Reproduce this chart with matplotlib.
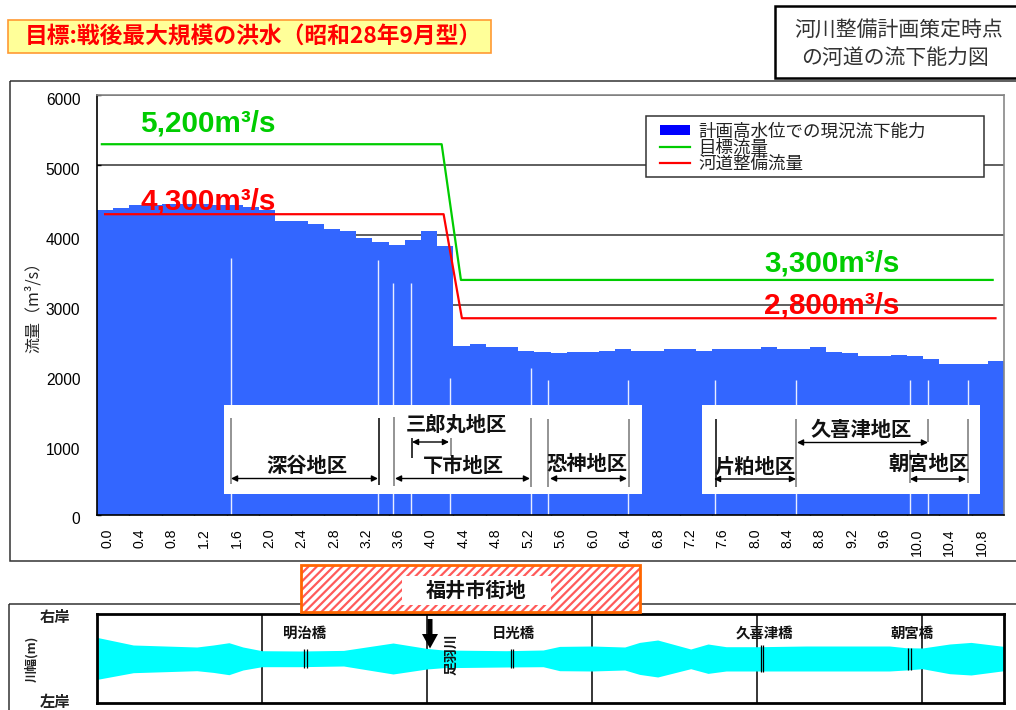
import matplotlib
matplotlib.use('Agg')
import matplotlib.pyplot as plt
import numpy as np
from matplotlib.patches import Rectangle, Polygon
from matplotlib.transforms import ScaledTranslation

CJK = ['Noto Sans CJK JP', 'DejaVu Sans']
plt.rcParams['font.family'] = CJK
plt.rcParams['hatch.linewidth'] = 1.6

capacity = [4355, 4385, 4430, 4430, 4440, 4435, 4445, 4430, 4430, 4400, 4355, 4197, 4197, 4154,
            4083, 4055, 3954, 3897, 3854, 3925, 4055, 3840, 2410, 2440, 2395, 2395, 2340, 2325,
            2310, 2325, 2325, 2340, 2368, 2340, 2340, 2368, 2368, 2340, 2368, 2368, 2368, 2395,
            2368, 2368, 2395, 2325, 2310, 2265, 2265, 2280, 2265, 2222, 2152, 2152, 2152, 2195]
km = [i * 0.2 for i in range(len(capacity))]
tick_km = km[::2][:28]

target_x = [-0.04, 4.156, 4.394, 10.96]
target_q = [5296, 5296, 3355, 3355]
plan_x = [0.0, 4.18, 4.406, 10.995]
plan_q = [4295, 4295, 2807, 2807]

boundary_km = [1.554, 3.375, 3.554, 3.783, 4.264, 5.258, 5.468, 6.456, 7.53, 8.53, 9.937, 10.159, 10.653]
boundary_top = [3668, 3640, 3310, 3310, 1950, 2095, 1920, 1920, 1920, 1920, 1920, 1920, 1920]

river_km = [0.0, 0.44, 1.21, 1.41, 1.6, 1.77, 2.0, 2.46, 2.99, 3.59, 4.0, 4.2, 4.96, 5.41, 5.61, 6.0,
            6.4, 6.58, 6.8, 7.2, 7.41, 7.63, 8.03, 8.6, 9.61, 9.81, 10.01, 10.34, 10.6, 11.0]
river_right = [21.3, 13.7, 11.7, 13.7, 16, 11.7, 8, 7.7, 8.3, 15.7, 10.3, 8.7, 8, 8.7, 12.3, 12.7,
               11.7, 16.3, 18.7, 9.7, 14.7, 12, 12, 12.7, 12.7, 11, 10.7, 14.7, 16.3, 12.3]
river_left = [-20.7, -14, -12, -13.7, -16, -11.3, -8, -8, -7.3, -15.3, -10.3, -9, -8.3, -8, -12, -12.3,
              -11.3, -15.7, -18.3, -10, -14.7, -12.3, -12.3, -12.3, -12.3, -11.3, -10, -15, -16.3, -12]
bridge_names = ['明治橋', '日光橋', '久喜津橋', '朝宮橋']
bridge_km = [2.527, 5.035, 8.065, 9.855]
bridge_half = [9.5, 9.5, 13.5, 11]
bridge_label_px = [305, 513, 764, 912]

W, H = 1016, 710
fig = plt.figure(figsize=(W / 100, H / 100), dpi=100, facecolor='white')

def axes_px(x0, y0, x1, y1, **kw):
    return fig.add_axes([x0 / W, 1 - y1 / H, (x1 - x0) / W, (y1 - y0) / H], **kw)

# main chart
ax = axes_px(97, 95, 1004, 514.5)
ax.set_xlim(-0.1, 11.1)
ax.set_ylim(0, 6000)
ax.set_axisbelow(True)
ax.grid(axis='y', color='#333333', lw=1.1)
bars = ax.bar(km, capacity, width=0.2, color='#3366FF', lw=0, label='計画高水位での現況流下能力', zorder=2)
ax.vlines(boundary_km, 0, boundary_top, color='#E8ECFF', lw=1.0, zorder=2.5)
l1, = ax.plot(target_x, target_q, color='#00CC00', lw=1.6, zorder=3, label='目標流量')
l2, = ax.plot(plan_x, plan_q, color='#FF0000', lw=1.6, zorder=3, label='河道整備流量')
ax.set_yticks([0, 1000, 2000, 3000, 4000, 5000, 6000])
ax.tick_params(axis='y', direction='in', length=3, width=1, pad=12, labelsize=11.2)
for t in ax.get_yticklabels():
    t.set_family(['Liberation Sans'])
    t.set_transform(t.get_transform() + ScaledTranslation(0, -4 / 100, fig.dpi_scale_trans))
ax.set_xticks([k - 0.1 for k in tick_km])
ax.set_xticks(tick_km, minor=True)
ax.set_xticklabels([])
ax.set_xticklabels([f'{k:.1f}' for k in tick_km], minor=True, rotation=90, family=['Liberation Sans'], fontsize=10.2)
ax.tick_params(axis='x', which='major', direction='in', length=3, width=1)
ax.tick_params(axis='x', which='minor', length=0, pad=10)
for t in ax.get_xticklabels(minor=True):
    t.set_transform(t.get_transform() + ScaledTranslation(2 / 100, 0, fig.dpi_scale_trans))
for s, c in zip(['top', 'right', 'left', 'bottom'], ['#888888', '#888888', 'black', 'black']):
    ax.spines[s].set_color(c)
    ax.spines[s].set_linewidth(1.2)

# river plan
rv = axes_px(97, 614, 1004, 703)
rv.set_xlim(0, 11)
rv.set_ylim(-44.3, 44.7)
rv.set_axisbelow(True)
rv.set_xticks([2, 4, 6, 8, 10])
rv.set_yticks([0])
rv.grid(axis='x', color='black', lw=1.1)
rv.tick_params(axis='x', length=0, labelbottom=False)
rv.tick_params(axis='y', direction='in', length=4, width=1, labelleft=False)
rv.fill_between(river_km, river_left, river_right, color='#00FFFF', lw=0, zorder=2)
for b, h in zip(bridge_km, bridge_half):
    rv.vlines([b - 0.015, b + 0.015], -h, h, color='black', lw=0.9, zorder=3)
for s in rv.spines.values():
    s.set_linewidth(2)

# page-level overlay in pixel coordinates
ov = fig.add_axes([0, 0, 1, 1], zorder=10)
ov.set_xlim(0, W)
ov.set_ylim(H, 0)
ov.axis('off')
ov.patch.set_alpha(0)

def rect(x0, y0, x1, y1, **kw):
    r = Rectangle((x0, y0), x1 - x0, y1 - y0, **kw)
    ov.add_patch(r)
    return r

# page frames
rect(9.5, 81, 1030, 561, fc='none', ec='#333333', lw=1.1)
rect(8.5, 604, 1030, 730, fc='none', ec='#333333', lw=1.1)
rect(775, 5.5, 1030, 78, fc='white', ec='black', lw=1.8)
ov.text(898.5, 30, '河川整備計画策定時点', ha='center', va='center', fontsize=15, color='#333333')
ov.text(895, 57.5, 'の河道の流下能力図', ha='center', va='center', fontsize=15, color='#333333')

rect(7.5, 20, 491, 53, fc='#FFFF99', ec='#FF9933', lw=1.2)
ov.text(253, 37, '目標:戦後最大規模の洪水（昭和28年9月型）', ha='center', va='center',
        fontsize=16.4, color='#FF0000', fontweight='bold')

ov.text(33, 303, '流量（m³/s）', rotation=90, ha='center', va='center', fontsize=11.5, color='#222222')
ov.text(55, 617, '右岸', ha='center', va='center', fontsize=11, fontweight='bold', color='#222222')
ov.text(55, 702, '左岸', ha='center', va='center', fontsize=11, fontweight='bold', color='#222222')
ov.text(32, 659, '川幅(m)', rotation=90, ha='center', va='center', fontsize=9, fontweight='bold', color='#222222')

# legend
rect(646, 115.5, 984, 177, fc='white', ec='#333333', lw=1.1, zorder=4)
leg = ov.legend(handles=[bars, l1, l2], loc='upper left', bbox_to_anchor=(660, 122.5),
                bbox_transform=ov.transData, frameon=False, borderpad=0, borderaxespad=0,
                fontsize=12.6, handlelength=1.7, handletextpad=0.5, labelspacing=-0.1,
                handleheight=0.5)
leg.set_zorder(5)
leg.legend_handles[0].set_color('#0000FF')
for t in leg.get_texts():
    t.set_color('#222222')

# big discharge labels
BIG = ['Liberation Sans']
for s, x, y, c in [('5,200m³/s', 208, 123, '#00CC00'), ('4,300m³/s', 208, 202, '#FF0000'),
                   ('3,300m³/s', 832, 264, '#00CC00'), ('2,800m³/s', 832, 306, '#FF0000')]:
    ov.text(x, y, s, color=c, ha='center', va='center', family=BIG, fontweight='bold', fontsize=21.3)

# district boxes
rect(224, 405, 642, 494, fc='white', ec='none')
rect(702, 405, 980, 494, fc='white', ec='none')
for x, y0, y1, c in [(231, 417.5, 484, '#777777'), (378.5, 417.5, 485, 'black'), (393.5, 417, 486, '#777777'),
                     (531, 418, 487, '#777777'), (548, 419, 487, '#777777'), (628.5, 419, 487, '#777777'),
                     (411.5, 438, 458, 'black'), (450.5, 438, 456, '#777777'),
                     (715.5, 419, 487, 'black'), (796, 419, 487, '#777777'), (910, 450, 483, '#777777'),
                     (928, 419, 442, '#777777'), (968, 419, 483, '#777777')]:
    ov.plot([x, x], [y0, y1], color=c, lw=1.1, solid_capstyle='butt')
for x0, x1, y in [(231, 378, 478.5), (395, 530, 478.5), (550, 627, 478.5), (412, 449, 442),
                  (797, 928, 442.5), (714, 796, 479), (910, 966, 479)]:
    ov.annotate('', xy=(x1, y), xytext=(x0, y),
                arrowprops=dict(arrowstyle='<|-|>', color='black', lw=1, mutation_scale=9,
                                shrinkA=0, shrinkB=0))
for s, x, y in [('深谷地区', 307, 465), ('下市地区', 463, 465), ('恐神地区', 587, 463), ('三郎丸地区', 456, 424),
                ('久喜津地区', 861, 429), ('片粕地区', 755, 466), ('朝宮地区', 929, 463)]:
    ov.text(x, y, s, ha='center', va='center', fontsize=14.6, fontweight='bold', color='#111111')

# bridges and river name
for s, x in zip(bridge_names, bridge_label_px):
    ov.text(x, 634, s, ha='center', va='center', fontsize=10.4, fontweight='bold', color='#111111')
ov.text(451, 654, '足羽川', rotation=90, ha='center', va='center', fontsize=10, fontweight='bold', color='#111111')
ov.add_patch(Polygon([(427.5, 619), (432.5, 619), (432.5, 634), (438, 634), (430, 648.5), (422, 634), (427.5, 634)],
                     closed=True, fc='black', ec='none'))

# city-area banner
rect(301, 565, 640, 612, fc='white', ec='#FF5A5A', hatch='////', lw=0)
rect(301, 565, 640, 612, fc='none', ec='#FF6600', lw=2)
rect(402, 576, 551, 605, fc='white', ec='none')
ov.text(476, 590, '福井市街地', ha='center', va='center', fontsize=14.5, fontweight='bold', color='#111111')

fig.savefig('out.png', dpi=100)
